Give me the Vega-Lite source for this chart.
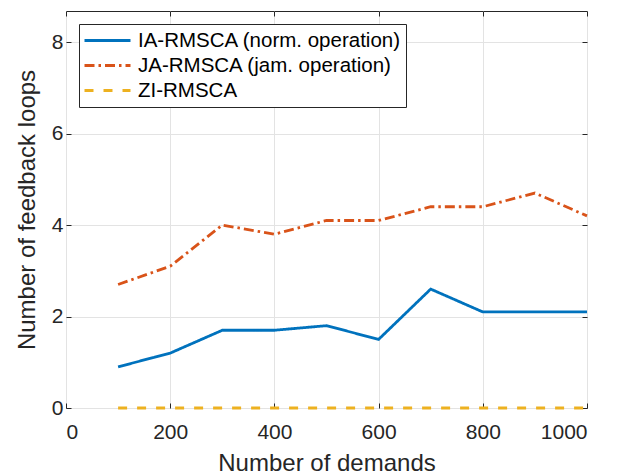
{
  "$schema": "https://vega.github.io/schema/vega-lite/v6.json",
  "width": 521,
  "height": 397,
  "autosize": {"type": "none"},
  "padding": {"left": 66, "top": 11, "right": 38, "bottom": 68},
  "background": "white",
  "config": {
    "font": "Liberation Sans",
    "view": {"stroke": "#262626", "strokeWidth": 1}
  },
  "data": {
    "values": [
      {"n": 100, "v": 0.9, "s": "IA-RMSCA (norm. operation)"},
      {"n": 200, "v": 1.2, "s": "IA-RMSCA (norm. operation)"},
      {"n": 300, "v": 1.7, "s": "IA-RMSCA (norm. operation)"},
      {"n": 400, "v": 1.7, "s": "IA-RMSCA (norm. operation)"},
      {"n": 500, "v": 1.8, "s": "IA-RMSCA (norm. operation)"},
      {"n": 600, "v": 1.5, "s": "IA-RMSCA (norm. operation)"},
      {"n": 700, "v": 2.6, "s": "IA-RMSCA (norm. operation)"},
      {"n": 800, "v": 2.1, "s": "IA-RMSCA (norm. operation)"},
      {"n": 900, "v": 2.1, "s": "IA-RMSCA (norm. operation)"},
      {"n": 1000, "v": 2.1, "s": "IA-RMSCA (norm. operation)"},
      {"n": 100, "v": 2.7, "s": "JA-RMSCA (jam. operation)"},
      {"n": 200, "v": 3.1, "s": "JA-RMSCA (jam. operation)"},
      {"n": 300, "v": 4.0, "s": "JA-RMSCA (jam. operation)"},
      {"n": 400, "v": 3.8, "s": "JA-RMSCA (jam. operation)"},
      {"n": 500, "v": 4.1, "s": "JA-RMSCA (jam. operation)"},
      {"n": 600, "v": 4.1, "s": "JA-RMSCA (jam. operation)"},
      {"n": 700, "v": 4.4, "s": "JA-RMSCA (jam. operation)"},
      {"n": 800, "v": 4.4, "s": "JA-RMSCA (jam. operation)"},
      {"n": 900, "v": 4.7, "s": "JA-RMSCA (jam. operation)"},
      {"n": 1000, "v": 4.2, "s": "JA-RMSCA (jam. operation)"},
      {"n": 100, "v": 0, "s": "ZI-RMSCA"},
      {"n": 200, "v": 0, "s": "ZI-RMSCA"},
      {"n": 300, "v": 0, "s": "ZI-RMSCA"},
      {"n": 400, "v": 0, "s": "ZI-RMSCA"},
      {"n": 500, "v": 0, "s": "ZI-RMSCA"},
      {"n": 600, "v": 0, "s": "ZI-RMSCA"},
      {"n": 700, "v": 0, "s": "ZI-RMSCA"},
      {"n": 800, "v": 0, "s": "ZI-RMSCA"},
      {"n": 900, "v": 0, "s": "ZI-RMSCA"},
      {"n": 1000, "v": 0, "s": "ZI-RMSCA"}
    ]
  },
  "layer": [
    {
      "mark": {"type": "point", "opacity": 0},
      "encoding": {
        "x": {
          "field": "n", "type": "quantitative",
          "scale": {"domain": [0, 1000], "nice": false, "zero": false},
          "axis": {"orient": "top", "values": [0, 200, 400, 600, 800, 1000], "labels": false, "title": null, "grid": false, "domain": false, "tickSize": -5, "tickColor": "#262626"}
        },
        "y": {
          "field": "v", "type": "quantitative",
          "scale": {"domain": [0, 8.68], "nice": false},
          "axis": {"orient": "right", "values": [0, 2, 4, 6, 8], "labels": false, "title": null, "grid": false, "domain": false, "tickSize": -5, "tickColor": "#262626"}
        }
      }
    },
    {
      "mark": {"type": "line", "strokeWidth": 2.8, "clip": false},
      "encoding": {
        "x": {
          "field": "n", "type": "quantitative",
          "scale": {"domain": [0, 1000], "nice": false, "zero": false},
          "axis": {
            "orient": "bottom", "values": [0, 200, 400, 600, 800, 1000], "format": "d",
            "title": "Number of demands", "titleFontSize": 24, "titleFontWeight": "normal", "titleColor": "#262626", "titlePadding": 9,
            "labelFontSize": 21, "labelColor": "#262626", "labelPadding": 18,
            "grid": true, "gridColor": "#e3e3e3", "domain": false,
            "tickSize": -5, "tickColor": "#262626"
          }
        },
        "y": {
          "field": "v", "type": "quantitative",
          "scale": {"domain": [0, 8.68], "nice": false},
          "axis": {
            "orient": "left", "values": [0, 2, 4, 6, 8],
            "title": "Number of feedback loops", "titleFontSize": 24, "titleFontWeight": "normal", "titleColor": "#262626", "titlePadding": 12,
            "labelFontSize": 21, "labelColor": "#262626", "labelPadding": 8,
            "grid": true, "gridColor": "#e3e3e3", "domain": false,
            "tickSize": -5, "tickColor": "#262626"
          }
        },
        "color": {
          "field": "s", "type": "nominal",
          "scale": {"domain": ["IA-RMSCA (norm. operation)", "JA-RMSCA (jam. operation)", "ZI-RMSCA"], "range": ["#0072BD", "#D95319", "#EDB120"]},
          "legend": {
            "title": null, "orient": "none", "legendX": 13, "legendY": 13,
            "symbolType": "stroke", "symbolSize": 2116, "symbolStrokeWidth": 2.8,
            "labelFontSize": 20.5, "labelColor": "#000000", "labelOffset": 6, "labelLimit": 400,
            "clipHeight": 25, "rowPadding": 0, "padding": 4,
            "strokeColor": "#262626", "fillColor": "white"
          }
        },
        "strokeDash": {
          "field": "s", "type": "nominal",
          "scale": {"domain": ["IA-RMSCA (norm. operation)", "JA-RMSCA (jam. operation)", "ZI-RMSCA"], "range": [[1, 0], [10, 4, 2.5, 4], [9, 10]]},
          "legend": {
            "title": null, "orient": "none", "legendX": 13, "legendY": 13,
            "symbolType": "stroke", "symbolSize": 2116, "symbolStrokeWidth": 2.8,
            "labelFontSize": 20.5, "labelColor": "#000000", "labelOffset": 6, "labelLimit": 400,
            "clipHeight": 25, "rowPadding": 0, "padding": 4,
            "strokeColor": "#262626", "fillColor": "white"
          }
        }
      }
    }
  ],
  "resolve": {"axis": {"x": "independent", "y": "independent"}}
}
